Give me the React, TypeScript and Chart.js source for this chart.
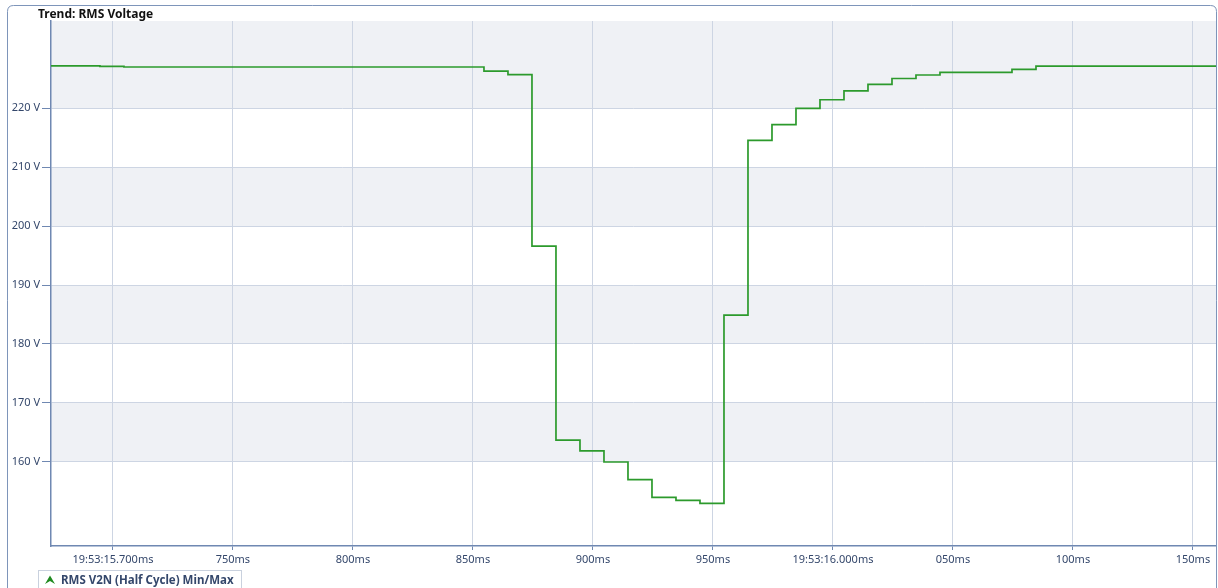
import React, { useEffect, useRef } from "react";
import { Chart, registerables } from "chart.js";

Chart.register(...registerables);

// Time in ms after 19:53:15.000 where each half-cycle value starts
const timesMs = [
  674.2, 694.6, 704.6, 854.6, 864.6, 874.6, 884.6, 894.6, 904.6, 914.6, 924.6,
  934.6, 944.6, 954.6, 964.6, 974.6, 984.6, 994.6, 1004.6, 1014.6, 1024.6,
  1034.6, 1044.6, 1074.6, 1084.6, 1159.6,
];
const voltages = [
  227.15, 227.05, 226.95, 226.27, 225.65, 196.6, 163.7, 161.9, 160.0, 157.0,
  154.0, 153.5, 153.0, 184.9, 214.5, 217.2, 219.95, 221.4, 222.9, 224.0, 225.0,
  225.6, 226.05, 226.55, 227.1, 227.1,
];

const xTickValues = [700, 750, 800, 850, 900, 950, 1000, 1050, 1100, 1150];
const xTickLabels = [
  "19:53:15.700ms", "750ms", "800ms", "850ms", "900ms", "950ms",
  "19:53:16.000ms", "050ms", "100ms", "150ms",
];
const yTickValues = [160, 170, 180, 190, 200, 210, 220];
const yTickLabels = ["160 V", "170 V", "180 V", "190 V", "200 V", "210 V", "220 V"];

const chartTitle = "Trend: RMS Voltage";
const seriesLabel = "RMS V2N (Half Cycle) Min/Max";

const X_MIN = 674.2;
const X_MAX = 1159.6;
const Y_MIN = 145.76;
const Y_MAX = 234.75;

const FONT = "'Noto Sans', 'DejaVu Sans', sans-serif";
const LABEL_COLOR = "#34476b";
const AXIS_COLOR = "#6f88b2";
const GRID_COLOR = "#cdd5e3";
const BAND_COLOR = "#eff1f5";
const LINE_COLOR = "#2c9a2c";

const decorPlugin = {
  id: "decor",
  beforeDraw(chart: any) {
    const { ctx, chartArea, scales } = chart;
    const y = scales.y;
    ctx.save();
    ctx.fillStyle = "#ffffff";
    ctx.fillRect(0, 0, chart.width, chart.height);
    // alternating bands between y ticks
    const edges = [Y_MIN, ...yTickValues, Y_MAX];
    ctx.fillStyle = BAND_COLOR;
    for (let i = 0; i < edges.length - 1; i++) {
      const shaded = (edges.length - 2 - i) % 2 === 0;
      if (!shaded) continue;
      const top = y.getPixelForValue(edges[i + 1]);
      const bot = y.getPixelForValue(edges[i]);
      ctx.fillRect(chartArea.left, top, chartArea.right - chartArea.left, bot - top);
    }
    ctx.restore();
  },
  afterDraw(chart: any) {
    const { ctx } = chart;
    ctx.save();
    // outer frame
    ctx.strokeStyle = "#7e95ba";
    ctx.lineWidth = 1;
    const fx = 7.5, fy = 5.5, fw = 1209, fh = 620, r = 6;
    ctx.beginPath();
    ctx.moveTo(fx + r, fy);
    ctx.lineTo(fx + fw - r, fy);
    ctx.quadraticCurveTo(fx + fw, fy, fx + fw, fy + r);
    ctx.lineTo(fx + fw, fy + fh);
    ctx.moveTo(fx, fy + fh);
    ctx.lineTo(fx, fy + r);
    ctx.quadraticCurveTo(fx, fy, fx + r, fy);
    ctx.stroke();
    // title
    ctx.fillStyle = "#111111";
    ctx.font = `bold 12px ${FONT}`;
    ctx.textBaseline = "alphabetic";
    ctx.textAlign = "left";
    ctx.fillText(chartTitle, 38, 18);
    // legend box
    ctx.fillStyle = "#ffffff";
    ctx.fillRect(38.5, 570.5, 203, 30);
    ctx.strokeStyle = "#c9d1de";
    ctx.strokeRect(38.5, 570.5, 203, 30);
    // legend marker
    ctx.fillStyle = "#1f8a1f";
    ctx.beginPath();
    ctx.moveTo(50, 575.5);
    ctx.lineTo(55, 584);
    ctx.lineTo(50, 581);
    ctx.lineTo(45, 584);
    ctx.closePath();
    ctx.fill();
    ctx.fillStyle = LABEL_COLOR;
    ctx.font = `bold 11.5px ${FONT}`;
    ctx.fillText(seriesLabel, 61, 584);
    ctx.restore();
  },
};

export default function App() {
  const canvasRef = useRef<HTMLCanvasElement | null>(null);

  useEffect(() => {
    const canvas = canvasRef.current;
    if (!canvas) return;
    const points = timesMs.map((t, i) => ({ x: t, y: voltages[i] }));
    const chart = new Chart(canvas, {
      type: "line",
      data: {
        datasets: [
          {
            label: seriesLabel,
            data: points,
            stepped: "before",
            borderColor: LINE_COLOR,
            borderWidth: 1.7,
            pointRadius: 0,
            fill: false,
          },
        ],
      },
      options: {
        responsive: false,
        animation: false,
        events: [],
        layout: { padding: { top: 21, left: 0, right: 2, bottom: 18 } },
        plugins: {
          legend: { display: false },
          title: { display: false },
          tooltip: { enabled: false },
        },
        scales: {
          x: {
            type: "linear",
            min: X_MIN,
            max: X_MAX,
            afterBuildTicks: (scale: any) => {
              scale.ticks = xTickValues.map((v) => ({ value: v }));
            },
            afterFit: (scale: any) => {
              scale.height = 24;
            },
            ticks: {
              autoSkip: false,
              maxRotation: 0,
              padding: 3,
              color: LABEL_COLOR,
              font: { family: FONT, size: 11 },
              callback: (v: any) => {
                const i = xTickValues.indexOf(Number(v));
                return i >= 0 ? xTickLabels[i] : "";
              },
            },
            grid: {
              color: GRID_COLOR,
              lineWidth: 1,
              tickLength: 4,
              tickColor: AXIS_COLOR,
            },
            border: { color: AXIS_COLOR, width: 1.5 },
          },
          y: {
            type: "linear",
            min: Y_MIN,
            max: Y_MAX,
            afterBuildTicks: (scale: any) => {
              scale.ticks = yTickValues.map((v) => ({ value: v }));
            },
            afterFit: (scale: any) => {
              scale.width = 51;
            },
            ticks: {
              autoSkip: false,
              padding: 2,
              color: LABEL_COLOR,
              font: { family: FONT, size: 11 },
              callback: (v: any) => {
                const i = yTickValues.indexOf(Number(v));
                return i >= 0 ? yTickLabels[i] : "";
              },
            },
            grid: {
              color: GRID_COLOR,
              lineWidth: 1,
              tickLength: 9,
              tickColor: AXIS_COLOR,
            },
            border: { color: AXIS_COLOR, width: 1.5 },
          },
        },
      },
      plugins: [decorPlugin],
    });
    return () => chart.destroy();
  }, []);

  return (
    <div style={{ position: "absolute", left: 0, top: 0, width: 1218, height: 588, overflow: "hidden" }}>
      <canvas ref={canvasRef} width={1218} height={588} style={{ display: "block", width: 1218, height: 588 }} />
    </div>
  );
}
